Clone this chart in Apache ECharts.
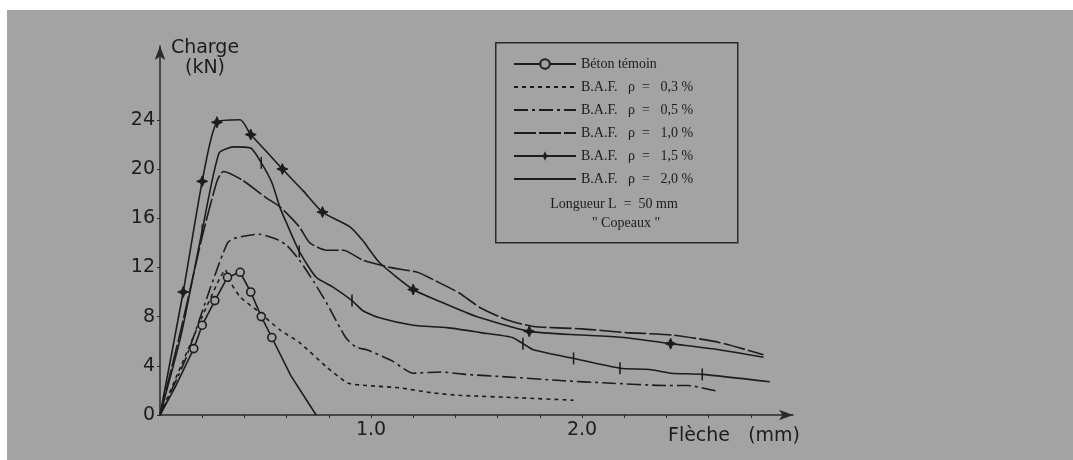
<!DOCTYPE html>
<html>
<head>
<meta charset="utf-8">
<title>Charge - flèche</title>
<script src="https://cdn.jsdelivr.net/npm/echarts@6/dist/echarts.min.js"></script>
<style>
    html, body { margin: 0; padding: 0; background: #fff; }
    #chart { width: 1073px; height: 460px; }
</style>
</head>
<body>
<div id="chart"></div>
<script>
var betonTemoin = [[0, 0], [0.07, 2.2], [0.16, 5.4], [0.2, 7.3], [0.26, 9.3], [0.32, 11.2], [0.38, 11.6],
    [0.43, 10], [0.48, 8], [0.53, 6.3], [0.62, 3.2], [0.74, 0]];
var betonMarks = [2, 3, 4, 5, 6, 7, 8, 9];

var baf03 = [[0, 0], [0.1, 4], [0.2, 8], [0.28, 11], [0.31, 11.8], [0.33, 10.9], [0.38, 9.6], [0.46, 8.5],
    [0.57, 6.9], [0.66, 5.9], [0.79, 3.9], [0.89, 2.6], [0.98, 2.4], [1.14, 2.2], [1.29, 1.8], [1.42, 1.6],
    [1.7, 1.4], [1.96, 1.2]];

var baf05 = [[0, 0], [0.12, 4.5], [0.24, 10.4], [0.32, 14], [0.36, 14.4], [0.47, 14.7], [0.55, 14.3],
    [0.6, 13.8], [0.66, 12.6], [0.73, 10.8], [0.79, 9.1], [0.88, 6.3], [0.93, 5.5], [0.98, 5.3], [1.1, 4.4],
    [1.2, 3.4], [1.33, 3.5], [1.45, 3.3], [1.64, 3.1], [1.9, 2.8], [2.12, 2.6], [2.4, 2.4], [2.5, 2.4],
    [2.65, 1.9]];

var baf10 = [[0, 0], [0.1, 7], [0.2, 14.5], [0.27, 19], [0.3, 19.8], [0.39, 19.1], [0.5, 17.7], [0.57, 16.9],
    [0.66, 15.3], [0.71, 14], [0.79, 13.4], [0.87, 13.4], [0.96, 12.6], [1.09, 12], [1.22, 11.6],
    [1.33, 10.7], [1.42, 9.9], [1.52, 8.7], [1.65, 7.7], [1.77, 7.2], [2.0, 7], [2.21, 6.7], [2.43, 6.5],
    [2.65, 5.9], [2.86, 4.9]];

var baf15 = [[0, 0], [0.11, 10], [0.2, 19], [0.27, 23.8], [0.38, 24], [0.43, 22.8], [0.5, 21.5], [0.58, 20],
    [0.68, 18.2], [0.77, 16.5], [0.9, 15.3], [0.96, 14.2], [1.04, 12.4], [1.2, 10.2], [1.33, 9.2], [1.5, 8],
    [1.75, 6.8], [2.0, 6.5], [2.2, 6.3], [2.42, 5.8], [2.65, 5.3], [2.86, 4.7]];
var baf15Marks = [1, 2, 3, 5, 7, 9, 13, 16, 19];

var baf20 = [[0, 0], [0.1, 6.5], [0.2, 15], [0.28, 21.3], [0.35, 21.8], [0.43, 21.7], [0.48, 20.5],
    [0.53, 18.9], [0.57, 16.8], [0.6, 15.6], [0.66, 13.3], [0.74, 11.2], [0.82, 10.4], [0.91, 9.3],
    [0.96, 8.5], [1.04, 7.9], [1.2, 7.3], [1.36, 7.1], [1.52, 6.7], [1.67, 6.3], [1.72, 5.8], [1.77, 5.3],
    [1.96, 4.6], [2.18, 3.8], [2.32, 3.7], [2.42, 3.4], [2.57, 3.3], [2.89, 2.7]];
var baf20Marks = [2, 6, 10, 13, 20, 22, 23, 26];

var seriesNames = ['Béton témoin', 'B.A.F.   ρ  =   0,3 %', 'B.A.F.   ρ  =   0,5 %', 'B.A.F.   ρ  =   1,0 %',
    'B.A.F.   ρ  =   1,5 %', 'B.A.F.   ρ  =   2,0 %'];
var legendNotes = ['Longueur L  =  50 mm', '" Copeaux "'];

var yTicks = [0, 4, 8, 12, 16, 20, 24];
var xTicks = [0.2, 0.4, 0.6, 0.8, 1.0, 1.2, 1.4, 1.6, 1.8, 2.0, 2.2, 2.4, 2.6, 2.8];
var xTickLabels = [1.0, 2.0];

var ink = '#1c1c1c';
var paper = '#a3a3a3';
var axisFont = 'DejaVu Sans';
var legendFont = 'Liberation Serif';

// garde un marqueur seulement sur les points repérés
function withMarks(points, marks) {
    return points.map(function (p, i) {
        return marks.indexOf(i) >= 0 ? p : { value: p, symbol: 'none' };
    });
}

function curve(name, data, lineType, extra) {
    var s = {
        name: name,
        type: 'line',
        data: data,
        smooth: 0.2,
        symbol: 'none',
        color: ink,
        lineStyle: { color: ink, width: 1.6, type: lineType },
        itemStyle: { color: ink, borderColor: ink },
        emphasis: { disabled: true },
        animation: false
    };
    return Object.assign(s, extra || {});
}

// pas de symbole dans la légende sauf cercles et étoiles
var legendData = seriesNames.map(function (n, i) {
    var noMark = (i === 1 || i === 2 || i === 3 || i === 5);
    return noMark ? { name: n, itemStyle: { opacity: 0 } } : { name: n };
});

var myChart = echarts.init(document.getElementById('chart'));

myChart.setOption({
    backgroundColor: paper,
    animation: false,
    grid: {
        left: 160,
        top: 46,
        width: 633,
        height: 369,
        containLabel: false,
        outerBoundsMode: 'none'
    },
    legend: {
        orient: 'vertical',
        left: 508,
        top: 52,
        itemWidth: 62,
        itemHeight: 12,
        itemGap: 9,
        data: legendData,
        textStyle: { fontFamily: legendFont, fontSize: 14, color: ink },
        selectedMode: false
    },
    xAxis: {
        type: 'value',
        min: 0,
        max: 3,
        name: 'Flèche   (mm)',
        nameLocation: 'end',
        nameGap: 7,
        nameTextStyle: {
            fontFamily: axisFont, fontSize: 19, color: ink,
            align: 'right', verticalAlign: 'top', padding: [12, 0, 0, 0]
        },
        axisLine: {
            lineStyle: { color: '#2a2a2a', width: 1.5 },
            symbol: ['none', 'arrow'],
            symbolSize: [8, 14]
        },
        axisTick: { show: true, length: 3, customValues: xTicks, lineStyle: { color: '#2a2a2a' } },
        axisLabel: {
            customValues: xTickLabels,
            formatter: function (v) { return v.toFixed(1); },
            fontFamily: axisFont, fontSize: 19, color: ink, margin: 6
        },
        splitLine: { show: false }
    },
    yAxis: {
        type: 'value',
        min: 0,
        max: 30,
        name: 'Charge\n(kN)',
        nameLocation: 'end',
        nameGap: 8,
        nameTextStyle: {
            fontFamily: axisFont, fontSize: 19, color: ink, lineHeight: 20,
            align: 'center', verticalAlign: 'top', padding: [0, 0, 0, 90]
        },
        axisLine: {
            show: true,
            lineStyle: { color: '#2a2a2a', width: 1.5 },
            symbol: ['none', 'arrow'],
            symbolSize: [8, 14]
        },
        axisTick: { show: true, length: 3, customValues: yTicks, lineStyle: { color: '#2a2a2a' } },
        axisLabel: {
            customValues: yTicks,
            fontFamily: axisFont, fontSize: 19, color: ink, margin: 5
        },
        splitLine: { show: false }
    },
    graphic: [
        // bords blancs du scan
        { type: 'rect', left: 0, top: 0, shape: { width: 1073, height: 10 }, style: { fill: '#fff' } },
        { type: 'rect', left: 0, top: 0, shape: { width: 7, height: 460 }, style: { fill: '#fff' } },
        // cadre de la légende
        {
            type: 'rect', left: 495, top: 42, shape: { width: 242, height: 200 },
            style: { fill: 'transparent', stroke: '#2a2a2a', lineWidth: 1.5 }
        },
        {
            type: 'text', x: 614, y: 204,
            style: {
                text: legendNotes[0], fontFamily: legendFont, fontSize: 14, fill: ink,
                align: 'center', verticalAlign: 'middle'
            }
        },
        {
            type: 'text', x: 626, y: 223,
            style: {
                text: legendNotes[1], fontFamily: legendFont, fontSize: 14, fill: ink,
                align: 'center', verticalAlign: 'middle'
            }
        }
    ],
    series: [
        curve(seriesNames[0], withMarks(betonTemoin, betonMarks), 'solid', {
            symbol: 'circle', symbolSize: 8, smooth: false,
            itemStyle: { color: paper, borderColor: ink, borderWidth: 1.6 }
        }),
        curve(seriesNames[1], baf03, [4, 4]),
        curve(seriesNames[2], baf05, [14, 4, 3, 4]),
        curve(seriesNames[3], baf10, [22, 3]),
        curve(seriesNames[4], withMarks(baf15, baf15Marks), 'solid', {
            symbol: 'path://M0,-10L3,-3L10,0L3,3L0,10L-3,3L-10,0L-3,-3Z', symbolSize: 11
        }),
        curve(seriesNames[5], withMarks(baf20, baf20Marks), 'solid', {
            symbol: 'path://M0,0h2v8h-2z', symbolSize: [2, 8], symbolKeepAspect: true
        })
    ]
});
</script>
</body>
</html>
